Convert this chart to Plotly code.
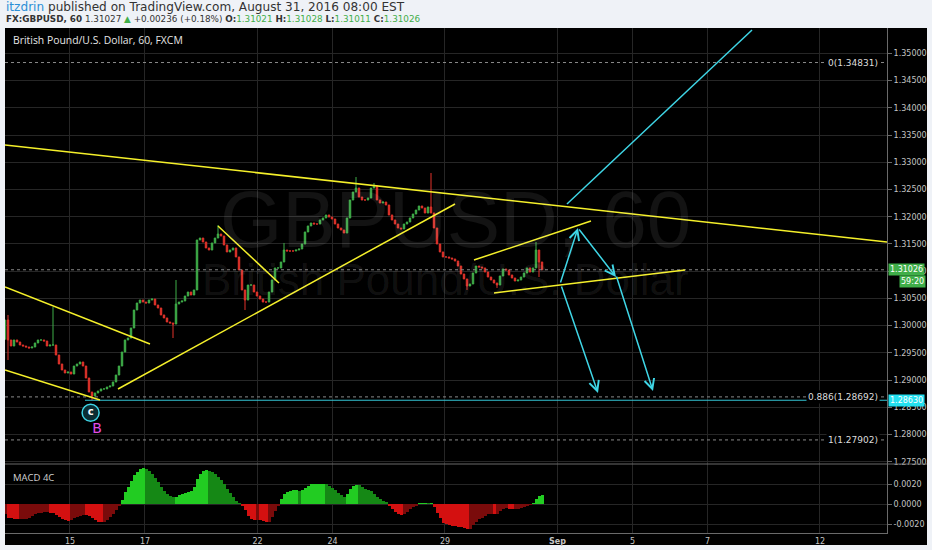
import plotly.graph_objects as go

# x axis unit: trading days counted from the Aug 15 session open
tick_days = [0, 2, 5, 7, 10, 13, 15, 17, 20]
tick_labels = ["15", "17", "22", "24", "29", "<b>Sep</b>", "5", "7", "12"]

# ~2h bars, Aug 12 -> Aug 31 08:00
bar_start = -1.733
bar_step = 0.08
first_open = 1.2975
closes = [
    1.30104, 1.29737, 1.29626, 1.29737, 1.29700, 1.29645, 1.29626, 1.29608, 1.29590, 1.29608,
    1.29682, 1.29737, 1.29737, 1.29718, 1.29626, 1.29645, 1.29645, 1.29461, 1.29296, 1.29186,
    1.29131, 1.29149, 1.29112, 1.29259, 1.29296, 1.29333, 1.29259, 1.29039, 1.28782, 1.28708,
    1.28764, 1.28800, 1.28838, 1.28838, 1.28874, 1.28892, 1.28966, 1.29094, 1.29259, 1.29516,
    1.29737, 1.29773, 1.29957, 1.30287, 1.30416,
    1.30471, 1.30434, 1.30416, 1.30471, 1.30489, 1.30379, 1.30324, 1.30196, 1.30141, 1.30067,
    1.30049, 1.30030, 1.30398, 1.30434, 1.30453, 1.30544, 1.30618, 1.30563, 1.30655, 1.31573,
    1.31609, 1.31536, 1.31426, 1.31389, 1.31518, 1.31609, 1.31683, 1.31646, 1.31481, 1.31353,
    1.31389, 1.31426, 1.31261, 1.31022, 1.30655, 1.30471, 1.30746, 1.30746, 1.30618, 1.30544,
    1.30489, 1.30434, 1.30434, 1.30618, 1.30838, 1.31059, 1.31059,
    1.31169, 1.31389, 1.31371, 1.31371, 1.31371, 1.31389, 1.31408, 1.31499, 1.31720, 1.31830,
    1.31885, 1.31866, 1.31866, 1.31940, 1.31977, 1.32032, 1.31995, 1.31958, 1.31866, 1.31793,
    1.31756, 1.31701, 1.31977, 1.32307, 1.32454, 1.32527, 1.32362, 1.32307, 1.32307, 1.32344,
    1.32527, 1.32564, 1.32307, 1.32252, 1.32270, 1.32215, 1.32032, 1.31940, 1.31866, 1.31793,
    1.31775, 1.31866, 1.31903, 1.31977, 1.32050, 1.32123,
    1.32197, 1.32160, 1.32068, 1.32179, 1.32068, 1.31793, 1.31499, 1.31353, 1.31261, 1.31261,
    1.31242, 1.31224, 1.31187, 1.31095, 1.30948, 1.30857, 1.30728, 1.30765, 1.30967, 1.31095,
    1.31077, 1.31059, 1.30985, 1.30893, 1.30838, 1.30783, 1.30746, 1.30912, 1.31040, 1.31022,
    1.30930, 1.30875, 1.30820, 1.30838, 1.30893, 1.30967, 1.31059, 1.30985, 1.31059, 1.31389,
    1.31169, 1.31026,
]
# long wicks (bar index -> price)
spike_highs = {1: 1.30196, 16: 1.30342, 57: 1.30838, 71: 1.31848, 93: 1.31518,
               117: 1.32729, 123: 1.32619, 142: 1.32803, 177: 1.31536}
spike_lows = {1: 1.29369, 29: 1.28630, 56: 1.29773, 80: 1.30287, 154: 1.30655,
              164: 1.30692, 178: 1.30893}

macd = [
    -0.00100, -0.00136, -0.00142, -0.00146, -0.00149, -0.00149, -0.00149, -0.00146, -0.00136, -0.00122,
    -0.00102, -0.00088, -0.00085, -0.00081, -0.00081, -0.00085, -0.00088, -0.00108, -0.00129, -0.00146,
    -0.00159, -0.00170, -0.00163, -0.00142, -0.00129, -0.00115, -0.00108, -0.00112, -0.00119, -0.00142,
    -0.00163, -0.00180, -0.00183, -0.00176, -0.00156, -0.00129, -0.00095, -0.00061, -0.00020, 0.00041,
    0.00119, 0.00170, 0.00231, 0.00288, 0.00322, 0.00346, 0.00356, 0.00349, 0.00329, 0.00298,
    0.00264, 0.00220, 0.00170, 0.00129, 0.00102, 0.00081, 0.00068, 0.00075, 0.00088, 0.00102,
    0.00115, 0.00122, 0.00129, 0.00170, 0.00254, 0.00305, 0.00329, 0.00339, 0.00332, 0.00319,
    0.00298, 0.00271, 0.00237, 0.00197, 0.00153, 0.00108, 0.00068, 0.00034, 0.00007, -0.00020,
    -0.00061, -0.00119, -0.00149, -0.00156, -0.00156, -0.00159, -0.00170, -0.00183, -0.00180, -0.00129,
    -0.00068, -0.00017, 0.00051, 0.00102, 0.00119, 0.00129, 0.00136, 0.00136, 0.00129, 0.00136,
    0.00163, 0.00183, 0.00197, 0.00203, 0.00203, 0.00203, 0.00203, 0.00197, 0.00183, 0.00163,
    0.00136, 0.00108, 0.00088, 0.00075, 0.00102, 0.00149, 0.00183, 0.00193, 0.00186, 0.00170,
    0.00153, 0.00142, 0.00129, 0.00102, 0.00075, 0.00051, 0.00034, 0.00014, -0.00014, -0.00047,
    -0.00075, -0.00095, -0.00108, -0.00102, -0.00081, -0.00054, -0.00034, -0.00014, 0.00002, 0.00007,
    0.00010, 0.00007, 0.00010, -0.00027, -0.00085, -0.00142, -0.00186, -0.00203, -0.00210, -0.00217,
    -0.00220, -0.00227, -0.00231, -0.00237, -0.00251, -0.00247, -0.00210, -0.00176, -0.00153, -0.00136,
    -0.00119, -0.00102, -0.00095, -0.00102, -0.00095, -0.00068, -0.00047, -0.00041, -0.00047, -0.00054,
    -0.00054, -0.00051, -0.00041, -0.00027, -0.00014, -0.00003, 0.00001, 0.00051, 0.00085, 0.00092,
]

# drawings: (t0, p0, t1, p1)
yellow_lines = [
    (-1.733, 1.33317, 21.787, 1.31536),
    (-1.733, 1.30710, 2.133, 1.29663),
    (-1.733, 1.29186, 0.800, 1.28635),
    (1.280, 1.28837, 10.267, 1.32234),
    (3.947, 1.31830, 5.573, 1.30783),
    (10.773, 1.31205, 13.893, 1.31921),
    (11.307, 1.30600, 16.400, 1.31022),
]
cyan_line = (13.253, 1.32234, 18.187, 1.35428)
cyan_arrows = [  # tail -> head
    (13.067, 1.30765, 13.547, 1.31793),
    (13.547, 1.31793, 14.560, 1.30893),
    (13.093, 1.30746, 14.080, 1.28764),
    (14.560, 1.30930, 15.547, 1.28800),
]
cyan_level = (0.40, 1.28630)
fib_levels = [1.34831, 1.28692, 1.27902]
fib_names = ["0", "0.886", "1"]
last_price = 1.31026

X_LEFT, X_RIGHT = -1.733, 21.787
GREEN, RED = "#3fae49", "#e2332b"
YELLOW, CYAN = "#f5f02a", "#3fd6e6"
GRID = "#262626"
AXIS_FONT = dict(family="DejaVu Sans", size=8, color="#c4c4c4")

bar_t = [bar_start + i * bar_step for i in range(len(closes))]
opens = [first_open] + closes[:-1]
highs = [max(o, c) for o, c in zip(opens, closes)]
lows = [min(o, c) for o, c in zip(opens, closes)]
for i, v in spike_highs.items():
    highs[i] = v
for i, v in spike_lows.items():
    lows[i] = v

# MACD 4C colouring
macd_colors = []
for i, v in enumerate(macd):
    prev = macd[i - 1] if i else v
    if v >= 0:
        macd_colors.append("#22cc22" if v >= prev else "#158815")
    else:
        macd_colors.append("#d41010" if v < prev else "#7a0b0b")


def paper_x(px):
    return (px - 5) / 882


def paper_y(py):
    return (533 - py) / 505


fig = go.Figure()

fig.add_trace(go.Candlestick(
    x=bar_t, open=opens, high=highs, low=lows, close=closes,
    increasing=dict(line=dict(color=GREEN, width=1), fillcolor=GREEN),
    decreasing=dict(line=dict(color=RED, width=1), fillcolor=RED),
    whiskerwidth=0, xaxis="x", yaxis="y", showlegend=False,
))

fig.add_trace(go.Bar(
    x=bar_t, y=macd, marker=dict(color=macd_colors, line=dict(width=0)),
    width=bar_step, xaxis="x", yaxis="y2", showlegend=False,
))

# elliott wave labels
fig.add_trace(go.Scatter(
    x=[0.55], y=[1.2840], mode="markers+text", text=["<b>c</b>"],
    marker=dict(size=17, color="#0b2e33", line=dict(color=CYAN, width=1.5)),
    textfont=dict(color="white", size=10, family="DejaVu Sans"),
    textposition="middle center", xaxis="x", yaxis="y", showlegend=False,
))
fig.add_trace(go.Scatter(
    x=[0.72], y=[1.2809], mode="text", text=["B"],
    textfont=dict(color="#e04ce8", size=14, family="DejaVu Sans"),
    xaxis="x", yaxis="y", showlegend=False,
))

shapes = [
    # black chart background incl. price axis
    dict(type="rect", xref="paper", yref="paper", x0=0, x1=paper_x(927),
         y0=paper_y(545), y1=1, fillcolor="black", line=dict(width=0), layer="below"),
    # pane divider
    dict(type="line", xref="paper", yref="paper", x0=0, x1=paper_x(927),
         y0=paper_y(464), y1=paper_y(464), line=dict(color="#6a6a6a", width=1)),
]
for lvl in fib_levels + [last_price]:
    shapes.append(dict(type="line", xref="x", yref="y", x0=X_LEFT, x1=X_RIGHT,
                       y0=lvl, y1=lvl, line=dict(color="#8a8a8a", width=1, dash="dot")))
shapes.append(dict(type="line", xref="x", yref="y", x0=cyan_level[0], x1=X_RIGHT,
                   y0=cyan_level[1], y1=cyan_level[1], line=dict(color="#33c3d3", width=1.2)))
for t0, p0, t1, p1 in yellow_lines:
    shapes.append(dict(type="line", xref="x", yref="y", x0=t0, y0=p0, x1=t1, y1=p1,
                       line=dict(color=YELLOW, width=1.5)))
t0, p0, t1, p1 = cyan_line
shapes.append(dict(type="line", xref="x", yref="y", x0=t0, y0=p0, x1=t1, y1=p1,
                   line=dict(color=CYAN, width=1.5)))


def note(px, py, text, font, xanchor="left", **kw):
    return dict(xref="paper", yref="paper", x=paper_x(px), y=paper_y(py), text=text,
                xanchor=xanchor, yanchor="middle", showarrow=False, font=font, **kw)


annotations = [
    note(455, 219, "GBPUSD, 60",
         dict(family="Liberation Sans", size=80, color="rgba(255,255,255,0.075)"), "center"),
    note(445, 279, "British Pound/U.S. Dollar",
         dict(family="Liberation Sans", size=44, color="rgba(255,255,255,0.075)"), "center"),
    note(5, 7.5, '<span style="color:#2c8fd6">itzdrin</span> published on TradingView.com, August 31, 2016 08:00 EST',
         dict(family="DejaVu Sans", size=12.1, color="#333"), borderpad=0),
    note(5, 19.5, '<b>FX:GBPUSD, 60</b> 1.31027 <span style="color:#3fae49">▲</span> +0.00236 (+0.18%) '
                  '<b>O:</b><span style="color:#3fae49">1.31021</span> <b>H:</b><span style="color:#3fae49">1.31028</span> '
                  '<b>L:</b><span style="color:#3fae49">1.31011</span> <b>C:</b><span style="color:#3fae49">1.31026</span>',
         dict(family="DejaVu Sans", size=8.8, color="#333"), borderpad=0),
    note(11, 39.5, "British Pound/U.S. Dollar, 60, FXCM",
         dict(family="Open Sans", size=10.4, color="#e6e6e6")),
    note(11, 477, "MACD 4C", dict(family="Open Sans", size=9.5, color="#d0d0d0")),
    # price axis labels
    dict(xref="paper", yref="y", x=paper_x(888), y=last_price, xanchor="left", yanchor="middle",
         text="1.31026", showarrow=False, bgcolor="#3fae49", borderpad=1,
         font=dict(family="DejaVu Sans", size=8, color="white")),
    dict(xref="paper", yref="y", x=paper_x(926), y=last_price, yshift=-12, xanchor="right",
         yanchor="middle", text="59:20", showarrow=False, bgcolor="#3fae49", borderpad=1,
         font=dict(family="DejaVu Sans", size=8, color="white")),
    dict(xref="paper", yref="y", x=paper_x(888), y=cyan_level[1], xanchor="left", yanchor="middle",
         text="1.28630", showarrow=False, bgcolor="#22e0f0", borderpad=1,
         font=dict(family="DejaVu Sans", size=8, color="white")),
]
for name, lvl in zip(fib_names, fib_levels):
    annotations.append(dict(xref="x", yref="y", x=21.6, y=lvl, xanchor="right", yanchor="middle",
                            text=f"{name}({lvl:.5f})", showarrow=False, bgcolor="black",
                            font=dict(family="DejaVu Sans", size=9, color="#dcdcdc")))
for a0, b0, a1, b1 in cyan_arrows:
    annotations.append(dict(xref="x", yref="y", axref="x", ayref="y", x=a1, y=b1, ax=a0, ay=b0,
                            text="", showarrow=True, arrowhead=5, arrowsize=1.3,
                            arrowwidth=1.5, arrowcolor=CYAN))

fig.update_layout(
    width=932, height=550,
    margin=dict(l=5, r=45, t=28, b=17),
    paper_bgcolor="#eff2f7", plot_bgcolor="black",
    showlegend=False,
    shapes=shapes, annotations=annotations,
    bargap=0,
    xaxis=dict(domain=[0, 1], anchor="y2", range=[X_LEFT, X_RIGHT],
               tickvals=tick_days, ticktext=tick_labels, tickfont=AXIS_FONT,
               showgrid=True, gridcolor=GRID, zeroline=False, automargin=False,
               showline=True, linecolor="#6a6a6a", rangeslider=dict(visible=False),
               fixedrange=True),
    yaxis=dict(domain=[paper_y(464), 1], anchor="x", side="right",
               range=[1.27460, 1.35465], tick0=1.275, dtick=0.005, tickformat=".5f",
               tickfont=AXIS_FONT, showgrid=True, gridcolor=GRID, zeroline=False,
               showline=True, linecolor="#6a6a6a", ticks="outside", ticklen=4,
               tickcolor="#6a6a6a", fixedrange=True, automargin=False),
    yaxis2=dict(domain=[0, paper_y(464)], anchor="x", side="right",
                range=[-0.0029, 0.0040], tickvals=[-0.002, 0, 0.002],
                ticktext=["-0.0020", "0.0000", "0.0020"], tickfont=AXIS_FONT,
                showgrid=True, gridcolor=GRID, zeroline=False,
                showline=True, linecolor="#6a6a6a", ticks="outside", ticklen=4,
                tickcolor="#6a6a6a", fixedrange=True, automargin=False),
)

fig.write_html("out.html", config={"displayModeBar": False},
               post_script="document.body.style.margin='0';")
